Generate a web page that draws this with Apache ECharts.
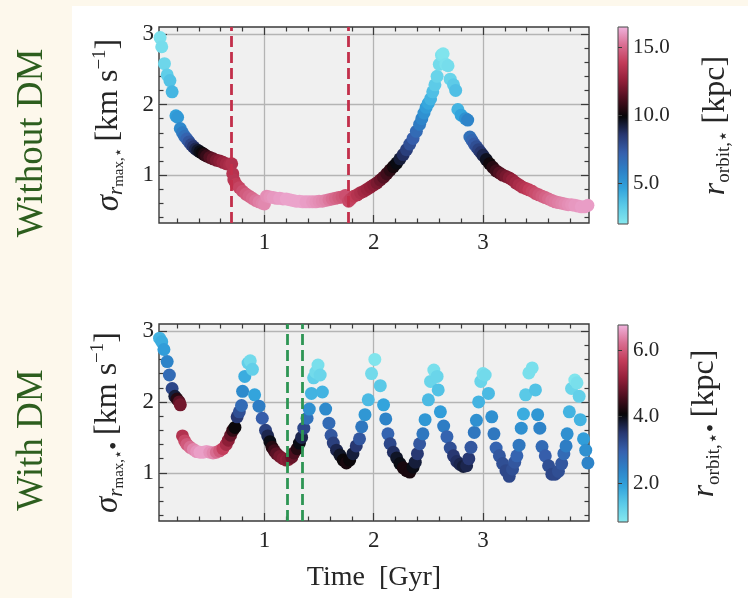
<!DOCTYPE html>
<html><head><meta charset="utf-8">
<script src="https://cdn.jsdelivr.net/npm/echarts@6/dist/echarts.min.js"></script>
<style>html,body{margin:0;padding:0;background:#fff}#c{width:748px;height:598px}</style>
</head><body><div id="c"></div>
<script>
// ---- Data: "Without DM" panel ----
const topTime = [0.045,0.06,0.085,0.11,0.135,0.155,0.19,0.205,0.23,0.25,0.27,0.29,0.31,0.33,0.35,0.37,0.39,0.41,0.43,0.45,0.47,0.50,0.53,0.56,0.59,0.62,0.65,0.68,0.70,0.71,0.72,0.74,0.77,0.80,0.83,0.86,0.89,0.92,0.95,0.98,1.00,1.02,1.05,1.08,1.11,1.14,1.17,1.20,1.23,1.26,1.29,1.32,1.35,1.38,1.41,1.44,1.47,1.50,1.53,1.56,1.59,1.62,1.65,1.68,1.71,1.74,1.77,1.79,1.82,1.85,1.88,1.91,1.94,1.97,2.00,2.03,2.06,2.09,2.12,2.15,2.18,2.21,2.24,2.27,2.30,2.33,2.36,2.39,2.42,2.44,2.46,2.48,2.50,2.52,2.54,2.56,2.58,2.60,2.62,2.635,2.66,2.68,2.70,2.73,2.75,2.77,2.80,2.84,2.86,2.88,2.90,2.92,2.94,2.96,2.98,3.00,3.03,3.06,3.09,3.12,3.15,3.18,3.21,3.24,3.27,3.30,3.33,3.36,3.39,3.42,3.45,3.48,3.51,3.54,3.57,3.60,3.63,3.66,3.69,3.72,3.75,3.78,3.81,3.84,3.87,3.90,3.93,3.96];
const topSigma = [2.95,2.82,2.58,2.42,2.34,2.18,1.84,1.82,1.66,1.60,1.55,1.51,1.47,1.43,1.40,1.37,1.35,1.33,1.31,1.29,1.27,1.25,1.23,1.21,1.20,1.18,1.16,1.15,1.16,1.02,0.93,0.87,0.82,0.77,0.73,0.70,0.67,0.64,0.62,0.60,0.59,0.70,0.69,0.68,0.67,0.67,0.66,0.66,0.65,0.64,0.63,0.63,0.62,0.62,0.62,0.62,0.62,0.63,0.63,0.64,0.65,0.66,0.67,0.68,0.69,0.71,0.63,0.66,0.70,0.72,0.75,0.77,0.80,0.83,0.86,0.89,0.93,0.97,1.02,1.07,1.12,1.17,1.23,1.29,1.36,1.44,1.52,1.62,1.72,1.80,1.88,1.96,2.02,2.08,2.18,2.28,2.40,2.57,2.70,2.72,2.57,2.55,2.36,2.28,2.20,1.93,1.85,1.80,1.78,1.54,1.49,1.44,1.40,1.36,1.32,1.28,1.22,1.16,1.11,1.06,1.03,1.00,0.98,0.96,0.93,0.89,0.86,0.83,0.81,0.79,0.77,0.74,0.72,0.70,0.68,0.66,0.64,0.62,0.61,0.60,0.59,0.58,0.58,0.57,0.56,0.55,0.55,0.57];
const topROrbit = [2.3,2.5,2.8,3.2,3.6,4.0,4.7,5.0,5.6,6.1,6.6,7.1,7.6,8.1,8.6,9.0,9.4,9.7,10.0,10.4,10.8,11.3,11.7,12.1,12.4,12.7,13.0,13.2,13.4,13.5,13.6,13.8,14.1,14.4,14.7,14.9,15.1,15.3,15.5,15.6,15.7,15.8,15.9,16.0,16.0,16.1,16.1,16.2,16.2,16.2,16.2,16.2,16.2,16.1,16.1,16.0,15.9,15.8,15.7,15.6,15.4,15.2,15.0,14.8,14.6,14.4,14.2,14.0,13.8,13.5,13.3,13.0,12.8,12.6,12.4,12.1,11.8,11.4,11.0,10.6,10.2,9.8,9.3,8.8,8.3,7.8,7.3,6.8,6.2,5.8,5.3,4.9,4.5,4.1,3.7,3.3,2.9,2.6,2.3,2.2,2.3,2.5,2.9,3.3,3.7,4.1,4.6,5.3,5.8,6.6,7.0,7.4,7.8,8.2,8.6,9.0,9.6,10.1,10.5,10.9,11.3,11.7,12.0,12.3,12.6,12.9,13.2,13.4,13.6,13.9,14.1,14.3,14.5,14.7,14.9,15.1,15.3,15.4,15.5,15.6,15.7,15.8,15.9,16.0,16.0,16.1,16.1,16.1];
const topMarkTimes = [0.705, 1.775];

// ---- Data: "With DM" panel ----
const botTime = [0.04,0.06,0.08,0.11,0.13,0.155,0.18,0.20,0.22,0.23,0.25,0.27,0.29,0.32,0.35,0.38,0.41,0.44,0.47,0.50,0.53,0.56,0.59,0.62,0.65,0.67,0.69,0.71,0.73,0.75,0.77,0.79,0.80,0.82,0.85,0.87,0.89,0.91,0.95,0.98,1.01,1.03,1.05,1.07,1.09,1.11,1.14,1.17,1.20,1.22,1.25,1.27,1.30,1.32,1.34,1.36,1.39,1.41,1.43,1.45,1.47,1.49,1.51,1.53,1.56,1.59,1.61,1.63,1.66,1.69,1.72,1.75,1.78,1.81,1.84,1.87,1.89,1.92,1.95,1.98,2.01,2.06,2.09,2.11,2.13,2.15,2.18,2.21,2.24,2.27,2.30,2.33,2.36,2.38,2.40,2.42,2.45,2.47,2.50,2.52,2.55,2.58,2.59,2.61,2.64,2.67,2.70,2.73,2.76,2.79,2.82,2.85,2.87,2.89,2.92,2.94,2.96,2.98,3.00,3.02,3.05,3.08,3.10,3.12,3.15,3.18,3.21,3.24,3.27,3.29,3.31,3.33,3.35,3.37,3.39,3.42,3.45,3.48,3.50,3.52,3.54,3.57,3.60,3.63,3.66,3.69,3.72,3.74,3.76,3.77,3.79,3.81,3.84,3.86,3.88,3.89,3.92,3.94,3.96];
const botSigma = [2.90,2.85,2.74,2.57,2.38,2.19,2.08,2.04,2.00,1.96,1.52,1.45,1.40,1.36,1.33,1.30,1.29,1.29,1.30,1.29,1.28,1.29,1.31,1.34,1.40,1.46,1.53,1.60,1.64,1.79,1.86,1.95,2.15,2.36,2.55,2.58,2.46,2.10,1.94,1.77,1.60,1.52,1.44,1.36,1.31,1.27,1.23,1.20,1.18,1.19,1.22,1.28,1.34,1.42,1.50,1.63,1.77,1.90,2.12,2.34,2.42,2.52,2.38,2.14,1.90,1.70,1.53,1.42,1.32,1.25,1.18,1.14,1.18,1.27,1.38,1.48,1.65,1.82,2.03,2.40,2.60,2.23,1.96,1.76,1.55,1.41,1.29,1.21,1.13,1.07,1.03,1.01,1.08,1.15,1.27,1.41,1.55,1.75,2.03,2.29,2.45,2.36,2.17,1.86,1.66,1.51,1.35,1.24,1.16,1.12,1.09,1.10,1.20,1.36,1.57,1.74,2.00,2.29,2.40,2.38,2.12,1.79,1.55,1.35,1.24,1.13,1.03,0.95,1.05,1.15,1.24,1.39,1.63,1.83,2.10,2.41,2.48,2.17,1.82,1.63,1.37,1.24,1.10,0.98,0.98,1.02,1.13,1.27,1.38,1.55,1.86,2.19,2.31,2.27,2.08,1.75,1.48,1.32,1.14];
const botROrbit = [1.7,1.8,2.0,2.4,2.8,3.3,3.8,4.3,4.7,4.9,5.5,5.8,6.0,6.2,6.4,6.5,6.6,6.6,6.6,6.5,6.4,6.2,6.0,5.7,5.4,5.1,4.8,4.4,4.1,3.5,3.2,2.8,2.3,1.8,1.3,1.1,1.3,1.9,2.5,3.0,3.4,3.7,4.0,4.3,4.5,4.7,4.9,5.0,5.1,5.0,4.8,4.6,4.3,4.0,3.7,3.3,2.7,2.2,1.7,1.3,1.1,1.0,1.2,1.7,2.3,2.8,3.1,3.4,3.7,3.9,4.1,4.2,4.1,3.8,3.5,3.1,2.6,2.1,1.6,1.1,0.9,1.4,1.9,2.4,2.9,3.3,3.6,3.9,4.0,4.2,4.2,4.2,4.0,3.8,3.5,3.1,2.6,2.1,1.6,1.2,1.0,1.2,1.5,2.0,2.5,2.9,3.2,3.5,3.6,3.7,3.8,3.7,3.5,3.1,2.6,2.2,1.7,1.2,1.0,1.1,1.6,2.2,2.6,2.9,3.1,3.2,3.3,3.3,3.2,3.1,2.9,2.6,2.2,1.8,1.4,1.0,1.0,1.5,2.1,2.4,2.8,3.0,3.2,3.3,3.3,3.2,3.1,2.8,2.5,2.2,1.7,1.2,0.9,1.0,1.3,1.7,2.0,2.2,2.4];
const botMarkTimes = [1.205, 1.35];

// ---- Ticks ----
const xMajorTicks = [1, 2, 3];
const xMinorTicks = [0.2,0.4,0.6,0.8,1.2,1.4,1.6,1.8,2.2,2.4,2.6,2.8,3.2,3.4,3.6,3.8];
const yMajorTicks = [1, 2, 3];
const yMinorTicks = [0.4,0.6,0.8,1.2,1.4,1.6,1.8,2.2,2.4,2.6,2.8];
const topCbarTicks = [5, 10, 15];
const botCbarTicks = [2, 4, 6];

const CMAP = ['#86e8ee','#5ccbe8','#32a3dc','#2d80c6','#365fac','#27366f','#060608','#4c0f1f','#921f39','#c23c59','#d96e92','#f0b2dc'];
const FONT = '"Liberation Serif","DejaVu Serif",serif';
const TXT = '#262626';
const X_MIN = 0.035, X_MAX = 3.97, Y_MIN = 0.32, Y_MAX = 3.1;

const grids = [
  {left:159, top:27, width:430, height:196},
  {left:159, top:324, width:430, height:197}
];
const cbars = [
  {left:618, top:27, width:10, height:197, min:2.0, max:16.5, ticks:topCbarTicks, name:'{i|r}{s|orbit,⋆}  {n|[kpc]}', gap:70},
  {left:618, top:325, width:10, height:197, min:0.84, max:6.75, ticks:botCbarTicks, name:'{i|r}{s|orbit,⋆}{b|•}  {n|[kpc]}', gap:58}
];

const richY = {
  i:{fontFamily:FONT,fontStyle:'italic',fontSize:33,color:TXT,lineHeight:36},
  s:{fontFamily:FONT,fontStyle:'italic',fontSize:21,color:TXT,verticalAlign:'bottom',lineHeight:36},
  ss:{fontFamily:FONT,fontSize:15,color:TXT,verticalAlign:'bottom',lineHeight:34},
  b:{fontFamily:FONT,fontSize:24,color:TXT,verticalAlign:'bottom',lineHeight:38},
  n:{fontFamily:FONT,fontSize:32,color:TXT,lineHeight:36},
  sup:{fontFamily:FONT,fontSize:19,color:TXT,verticalAlign:'top',lineHeight:36}
};
const richC = {
  i:{fontFamily:FONT,fontStyle:'italic',fontSize:32,color:TXT,lineHeight:36},
  s:{fontFamily:FONT,fontSize:19,color:TXT,verticalAlign:'bottom',lineHeight:36},
  b:{fontFamily:FONT,fontSize:24,color:TXT,verticalAlign:'bottom',lineHeight:38},
  n:{fontFamily:FONT,fontSize:32,color:TXT,lineHeight:36}
};

const gridOpt = [], xAxes = [], yAxes = [], series = [], visualMaps = [];
grids.forEach((g, gi) => {
  gridOpt.push({left:g.left, top:g.top, width:g.width, height:g.height, show:true,
    backgroundColor:'#f0f0f0', borderColor:'#3a3a3a', borderWidth:1.4, z:0});
  const baseX = {type:'value', gridIndex:gi, min:X_MIN, max:X_MAX,
    axisLine:{show:false}, splitLine:{show:false}, axisLabel:{show:false}};
  const tickStyle = {color:'#3a3a3a', width:1.2};
  xAxes.push(Object.assign({}, baseX, {position:'bottom',
    axisTick:{show:true, inside:true, length:8, customValues:xMajorTicks, lineStyle:tickStyle},
    axisLabel:{show:true, customValues:xMajorTicks, margin:8, color:TXT, fontFamily:FONT, fontSize:23},
    splitLine:{show:true, lineStyle:{color:'#b4b4b4', width:1.3}},
    name: gi === 1 ? 'Time  [Gyr]' : '', nameLocation:'middle', nameGap:43,
    nameTextStyle:{fontFamily:FONT, fontSize:28, color:TXT}}));
  xAxes.push(Object.assign({}, baseX, {position:'bottom',
    axisTick:{show:true, inside:true, length:4.5, customValues:xMinorTicks, lineStyle:tickStyle}}));
  xAxes.push(Object.assign({}, baseX, {position:'top',
    axisTick:{show:true, inside:true, length:8, customValues:xMajorTicks, lineStyle:tickStyle}}));
  xAxes.push(Object.assign({}, baseX, {position:'top',
    axisTick:{show:true, inside:true, length:4.5, customValues:xMinorTicks, lineStyle:tickStyle}}));

  const baseY = {type:'value', gridIndex:gi, min:Y_MIN, max:Y_MAX,
    axisLine:{show:false}, splitLine:{show:false}, axisLabel:{show:false}};
  yAxes.push(Object.assign({}, baseY, {position:'left',
    axisTick:{show:true, inside:true, length:8, customValues:yMajorTicks, lineStyle:tickStyle},
    axisLabel:{show:true, customValues:yMajorTicks, margin:5, color:TXT, fontFamily:FONT, fontSize:23},
    splitLine:{show:true, lineStyle:{color:'#b4b4b4', width:1.3}},
    name: gi === 0 ? '{i|σ}{s|r}{ss|max,⋆}  {n|[km s}{sup|−1}{n|]}' : '{i|σ}{s|r}{ss|max,⋆}{b|•}  {n|[km s}{sup|−1}{n|]}',
    nameLocation:'middle', nameRotate:90, nameGap:32,
    nameTextStyle:{rich:richY}}));
  yAxes.push(Object.assign({}, baseY, {position:'left',
    axisTick:{show:true, inside:true, length:4.5, customValues:yMinorTicks, lineStyle:tickStyle}}));
  yAxes.push(Object.assign({}, baseY, {position:'right',
    axisTick:{show:true, inside:true, length:8, customValues:yMajorTicks, lineStyle:tickStyle}}));
  yAxes.push(Object.assign({}, baseY, {position:'right',
    axisTick:{show:true, inside:true, length:4.5, customValues:yMinorTicks, lineStyle:tickStyle}}));
});

// colorbar grids / axes
cbars.forEach((c, ci) => {
  const gi = gridOpt.length;
  gridOpt.push({left:c.left, top:c.top, width:c.width, height:c.height, show:true,
    backgroundColor:'transparent', borderColor:'#444', borderWidth:1, z:10});
  xAxes.push({type:'value', gridIndex:gi, show:false, min:0, max:1});
  yAxes.push({type:'value', gridIndex:gi, min:c.min, max:c.max, position:'right',
    axisLine:{show:false}, splitLine:{show:false}, z:10,
    axisTick:{show:true, inside:false, length:4, customValues:c.ticks, lineStyle:{color:'#3a3a3a', width:1}},
    axisLabel:{show:true, customValues:c.ticks, margin:5, color:TXT, fontFamily:FONT, fontSize:21,
      formatter: v => Number(v).toFixed(1)},
    name:c.name, nameLocation:'middle', nameRotate:90, nameGap:c.gap,
    nameTextStyle:{rich:richC}});
  visualMaps.push({type:'continuous', seriesIndex:ci, dimension:2, min:c.min, max:c.max,
    inRange:{color:CMAP}, left:c.left, top:c.top, itemWidth:c.width, itemHeight:c.height,
    calculable:false, padding:0, show:true, hoverLink:false, textGap:0});
});

const panels = [
  {time:topTime, sigma:topSigma, r:topROrbit, marks:topMarkTimes, markColor:'#c22f4b'},
  {time:botTime, sigma:botSigma, r:botROrbit, marks:botMarkTimes, markColor:'#2e9554'}
];
panels.forEach((p, pi) => {
  series.push({type:'scatter', xAxisIndex:pi*4, yAxisIndex:pi*4, clip:true, z:2,
    symbolSize:13, itemStyle:{opacity:1},
    data:p.time.map((t, i) => [t, p.sigma[i], p.r[i]])});
});
panels.forEach((p, pi) => {
  series.push({type:'scatter', xAxisIndex:pi*4, yAxisIndex:pi*4, z:5, data:[],
    markLine:{silent:true, symbol:['none','none'], label:{show:false}, animation:false,
      lineStyle:{color:p.markColor, type:[11,5], width:2.8},
      data:p.marks.map(x => ({xAxis:x}))}});
});

const chart = echarts.init(document.getElementById('c'), null, {renderer:'canvas'});
chart.setOption({
  animation:false,
  backgroundColor:'#ffffff',
  graphic:[
    {type:'rect', shape:{x:0, y:0, width:72, height:598}, style:{fill:'#fdf8ec'}, z:-1},
    {type:'rect', shape:{x:0, y:0, width:748, height:6}, style:{fill:'#fdf8ec'}, z:-1},
    {type:'text', x:32, y:143, rotation:Math.PI/2,
      style:{text:'Without DM', fontFamily:FONT, fontSize:37, fill:'#2d5e1e', textAlign:'center', textVerticalAlign:'middle'}},
    {type:'text', x:32, y:440, rotation:Math.PI/2,
      style:{text:'With DM', fontFamily:FONT, fontSize:37, fill:'#2d5e1e', textAlign:'center', textVerticalAlign:'middle'}}
  ],
  grid:gridOpt, xAxis:xAxes, yAxis:yAxes, visualMap:visualMaps, series:series
});
</script></body></html>
